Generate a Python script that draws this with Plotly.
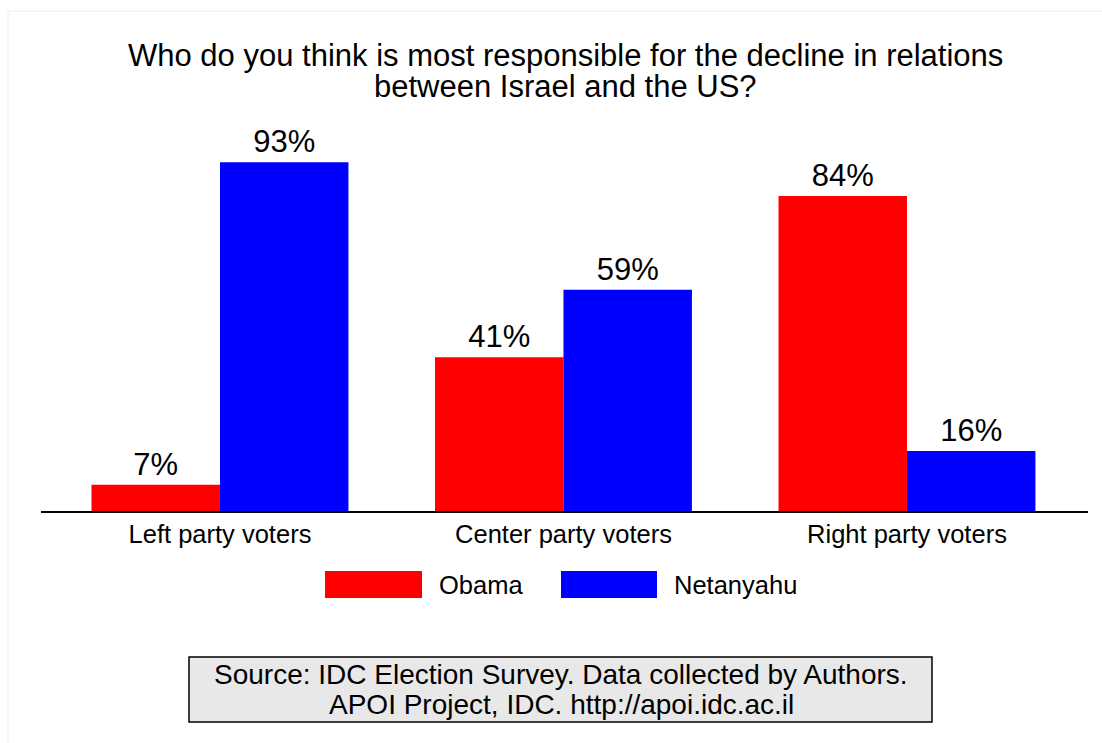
import plotly.graph_objects as go

categories = ["Left party voters", "Center party voters", "Right party voters"]
obama = [7, 41, 84]
netanyahu = [93, 59, 16]
series_names = ["Obama", "Netanyahu"]
title_lines = ["Who do you think is most responsible for the decline in relations",
               "between Israel and the US?"]
source_lines = ["Source: IDC Election Survey. Data collected by Authors.",
                "APOI Project, IDC. http://apoi.idc.ac.il"]

W, H = 1102, 743
L, R, T, B = 41, 1088, 136, 511
FONT = "Liberation Sans, Arial, sans-serif"

def px(x):
    return (x - L) / (R - L)

def py(y):
    return (B - y) / (B - T)

fig = go.Figure()
for name, vals, col in [(series_names[0], obama, "#ff0000"), (series_names[1], netanyahu, "#0000ff")]:
    fig.add_trace(go.Bar(
        x=categories, y=vals, name=name,
        marker=dict(color=col, line=dict(width=0)),
        text=[f"{v}%" for v in vals], textposition="outside",
        textfont=dict(size=31, color="black", family=FONT),
        cliponaxis=False,
    ))

shapes = [
    dict(type="rect", xref="paper", yref="paper", x0=px(8), x1=px(1120), y0=py(11), y1=py(760),
         line=dict(color="#ececec", width=1), fillcolor="rgba(0,0,0,0)", layer="below"),
    dict(type="rect", xref="paper", yref="paper", x0=px(325), x1=px(422), y0=py(598), y1=py(571),
         line=dict(width=0), fillcolor="#ff0000"),
    dict(type="rect", xref="paper", yref="paper", x0=px(561), x1=px(657), y0=py(598), y1=py(571),
         line=dict(width=0), fillcolor="#0000ff"),
    dict(type="rect", xref="paper", yref="paper", x0=px(189), x1=px(932), y0=py(722), y1=py(657),
         line=dict(color="black", width=1.5), fillcolor="#e8e8e8"),
]

def txt(s, x, y, size, anchor="center"):
    return dict(text=s, xref="paper", yref="paper", x=px(x), y=py(y), xanchor=anchor, yanchor="middle",
                showarrow=False, font=dict(size=size, color="black", family=FONT))

annotations = [
    txt(title_lines[0], 565, 55, 31),
    txt(title_lines[1], 565, 87, 31),
    txt(series_names[0], 437, 585, 25.5, "left"),
    txt(series_names[1], 672, 585, 25.5, "left"),
    txt(source_lines[0], 561, 674, 28),
    txt(source_lines[1], 561, 704, 28),
]

fig.update_layout(
    width=W, height=H,
    margin=dict(l=L, r=W - R, t=T, b=H - B, pad=0),
    paper_bgcolor="white", plot_bgcolor="white",
    showlegend=False,
    barmode="group", bargap=0.252, bargroupgap=0,
    xaxis=dict(range=[-0.521, 2.527], showline=True, linecolor="black", linewidth=1.5,
               ticks="", showgrid=False, zeroline=False,
               tickfont=dict(size=25.5, color="black", family=FONT)),
    yaxis=dict(range=[0, 100], visible=False, showgrid=False, zeroline=False),
    shapes=shapes, annotations=annotations,
    font=dict(family=FONT, color="black"),
)

fig.write_html("out.html")
